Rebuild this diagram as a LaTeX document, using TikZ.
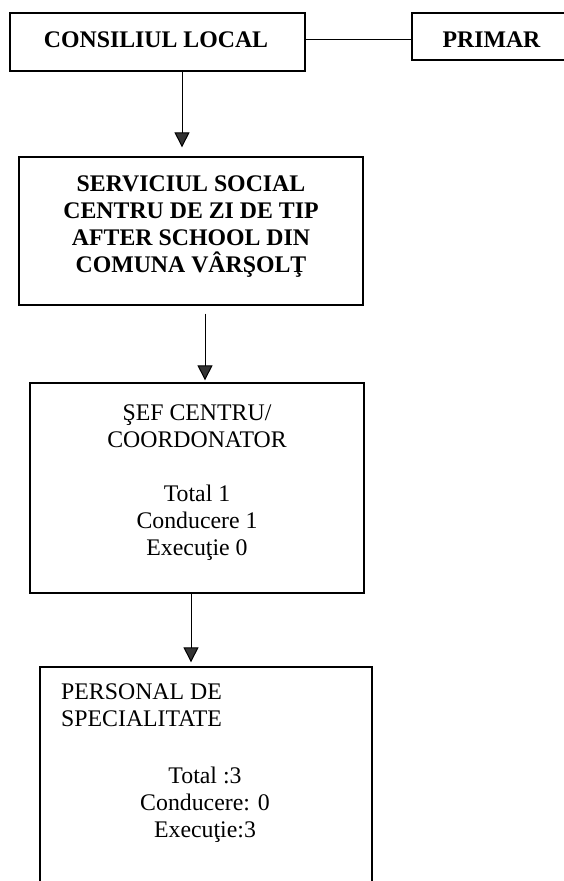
\documentclass[tikz,border=0pt]{standalone}
\usepackage{fontspec}
\setmainfont{Liberation Serif}
\usetikzlibrary{arrows.meta}
\definecolor{headgray}{HTML}{333333}
\begin{document}
\begin{tikzpicture}[x=1pt,y=-1pt,
  box/.style={draw=black,line width=1.3pt,inner sep=0pt,rectangle},
  txt/.style={inner sep=0pt,font=\fontsize{23.8}{27}\selectfont,align=center},
  btxt/.style={txt,font=\fontsize{23.8}{27}\selectfont\bfseries},
  conn/.style={draw=black,line width=1pt},
  arr/.style={conn,-{Triangle[width=15pt,length=15pt,fill=headgray]}}]
\useasboundingbox (0,0) rectangle (564,881);
\clip (0,0) rectangle (564,881);
\fill[white] (0,0) rectangle (564,881);
% boxes
\node[box,minimum width=295pt,minimum height=58pt] (cl) at (157.5,42) {};
\node[box,minimum width=188pt,minimum height=47pt] (pr) at (506,36.5) {};
\node[box,minimum width=344pt,minimum height=148pt] (sc) at (191,231) {};
\node[box,minimum width=334pt,minimum height=210pt] (sf) at (197,488) {};
\node[box,minimum width=332pt,minimum height=253pt] (ps) at (206,793.5) {};
% texts (base anchor = baseline of the last line)
\node[btxt,anchor=base] (tcl) at (156,47) {CONSILIUL LOCAL};
\node[btxt,anchor=base] (tpr) at (491.5,47) {PRIMAR};
\node[btxt,anchor=base] (tsc) at (191,272) {SERVICIUL SOCIAL\\CENTRU DE ZI DE TIP\\AFTER SCHOOL DIN\\COMUNA VÂRŞOLŢ};
\node[txt,anchor=base] (tsf) at (197,555) {ŞEF CENTRU/\\COORDONATOR\\[27pt]Total 1\\Conducere 1\\Execuţie 0};
\node[txt,align=left,anchor=base west] (tps1) at (61,726) {PERSONAL DE\\SPECIALITATE};
\node[txt,anchor=base] (tps2) at (205,837) {Total :3\\Conducere: 0\\Execuţie:3};
% connector helpers
\coordinate (yl) at (0,39);
\coordinate (ax1) at (182,0);
\coordinate (ax2) at (205,0);
\coordinate (ax3) at (191,0);
% connectors
\draw[conn] (cl.east |- yl) -- (pr.west |- yl);
\draw[arr,shorten >=9pt] (cl.south -| ax1) -- (sc.north -| ax1);
\draw[arr,shorten <=8pt,shorten >=2pt] (sc.south -| ax2) -- (sf.north -| ax2);
\draw[arr,shorten >=4pt] (sf.south -| ax3) -- (ps.north -| ax3);
\end{tikzpicture}
\end{document}
